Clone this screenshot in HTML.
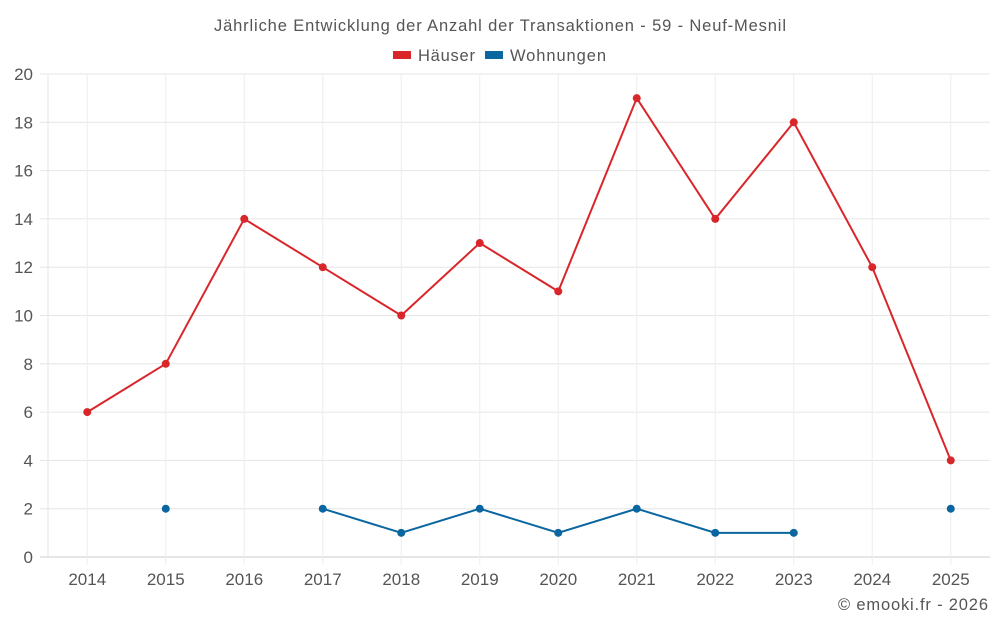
<!DOCTYPE html>
<html><head><meta charset="utf-8"><style>
body{margin:0;background:#fff;}
svg{display:block;font-family:"Liberation Sans",sans-serif;}
</style></head><body>
<svg id="chart" width="1000" height="625">
<text x="214" y="31" textLength="572" font-size="16.5" fill="#555">Jährliche Entwicklung der Anzahl der Transaktionen - 59 - Neuf-Mesnil</text>
<g><rect x="393" y="51" width="18" height="8" fill="#d9262b"/><text x="418" y="61" textLength="57" font-size="16.5" fill="#555">Häuser</text></g>
<g><rect x="485" y="51" width="18" height="8" fill="#0a66a0"/><text x="510" y="61" textLength="96" font-size="16.5" fill="#555">Wohnungen</text></g>
<g id="grid"></g><g id="marks"></g>
<text x="838" y="610" textLength="150" font-size="16.5" fill="#555">© emooki.fr - 2026</text>
</svg>
<script>
const years=[2014,2015,2016,2017,2018,2019,2020,2021,2022,2023,2024,2025];
const haeuser=[6,8,14,12,10,13,11,19,14,18,12,4];
const wohnungen=[null,2,null,2,1,2,1,2,1,1,null,2];
const yTicks=[0,2,4,6,8,10,12,14,16,18,20];
const L=48,R=990,T=74,B=557,ymax=20;
const bw=(R-L)/years.length;
const x=i=>L+bw*(i+0.5);
const y=v=>B-(v/ymax)*(B-T);
const ns="http://www.w3.org/2000/svg";
const g=document.getElementById('grid'),m=document.getElementById('marks');
function el(t,a,p){const e=document.createElementNS(ns,t);for(const k in a)e.setAttribute(k,a[k]);p.appendChild(e);return e;}
yTicks.forEach(v=>{
 const ln=el('line',{x1:40,x2:R,y1:y(v),y2:y(v),stroke:v===0?'#ccc':'#e6e6e6'},g);
 
 
 const t=el('text',{x:33,y:y(v)+6,'text-anchor':'end','font-size':17,fill:'#555'},g);t.textContent=v;
 
 
});
const ax=el('line',{x1:L,x2:L,y1:T,y2:B,stroke:'#e6e6e6'},g);


years.forEach((yr,i)=>{
 const ln=el('line',{x1:x(i),x2:x(i),y1:T,y2:B+8,stroke:'#eee'},g);
 
 
 const t=el('text',{x:x(i),y:585,'text-anchor':'middle','font-size':17,fill:'#555'},g);t.textContent=yr;
 
 
});
function series(data,color,name){
 let segs=[],cur=[];
 data.forEach((v,i)=>{if(v==null){if(cur.length)segs.push(cur);cur=[];}else cur.push([x(i),y(v)]);});
 if(cur.length)segs.push(cur);
 segs.forEach(s=>{if(s.length>1){const p=el('polyline',{points:s.map(q=>q.join(',')).join(' '),fill:'none',stroke:color,'stroke-width':2},m);
  
  }});
 data.forEach((v,i)=>{if(v==null)return;const c=el('circle',{cx:x(i),cy:y(v),r:4,fill:color},m);
  
  });
}
series(haeuser,'#d9262b','haeuser');
series(wohnungen,'#0a66a0','wohnungen');
</script>
</body></html>
